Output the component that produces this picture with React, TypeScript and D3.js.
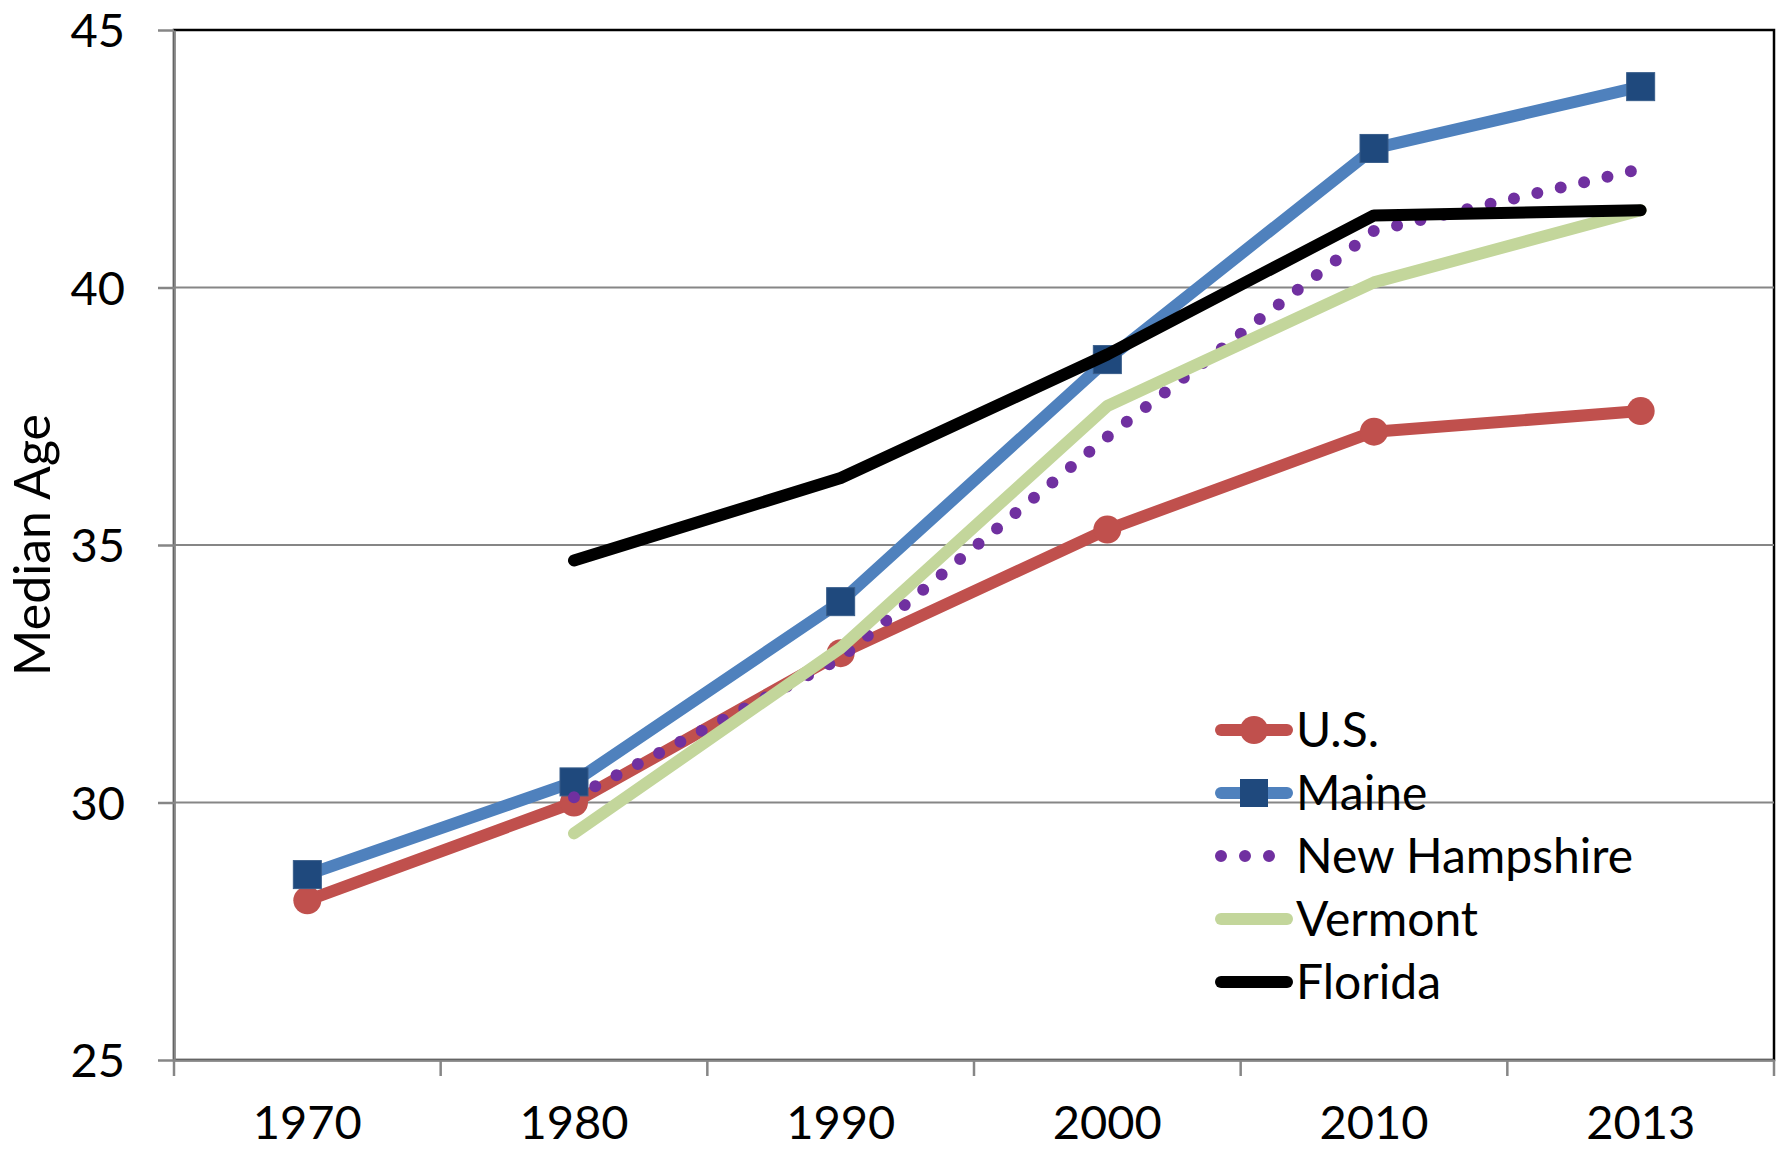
import { axisBottom, axisLeft, line, scaleBand, scaleLinear, select } from 'd3';
import React, { useEffect, useRef } from 'react';

const WIDTH = 1781;
const HEIGHT = 1149;
const MARGIN_TOP = 30;
const MARGIN_RIGHT = 7;
const MARGIN_BOTTOM = 89;
const MARGIN_LEFT = 174;

const FONT = 'Lato, "Open Sans", sans-serif';

const years = ['1970', '1980', '1990', '2000', '2010', '2013'];
const yTicks = [25, 30, 35, 40, 45];

const usValues = [28.1, 30.0, 32.9, 35.3, 37.2, 37.6];
const maineValues = [28.6, 30.4, 33.9, 38.6, 42.7, 43.9];
const newHampshireValues = [null, 30.1, 32.8, 37.1, 41.1, 42.3];
const vermontValues = [null, 29.4, 33.0, 37.7, 40.1, 41.5];
const floridaValues = [null, 34.7, 36.3, 38.7, 41.4, 41.5];

type Series = {
  name: string;
  values: (number | null)[];
  color: string;
  marker?: 'circle' | 'square';
  markerColor?: string;
  dotted?: boolean;
};

const series: Series[] = [
  { name: 'U.S.', values: usValues, color: '#C0504D', marker: 'circle', markerColor: '#C0504D' },
  { name: 'Maine', values: maineValues, color: '#4F81BD', marker: 'square', markerColor: '#1F497D' },
  { name: 'New Hampshire', values: newHampshireValues, color: '#7030A0', dotted: true },
  { name: 'Vermont', values: vermontValues, color: '#C3D69B' },
  { name: 'Florida', values: floridaValues, color: '#000000' },
];

const App = (): JSX.Element => {
  const ref = useRef<SVGSVGElement>(null);

  useEffect(() => {
    if (ref.current === null) return;
    ref.current.replaceChildren();

    const x = scaleBand().domain(years).range([MARGIN_LEFT, WIDTH - MARGIN_RIGHT]);
    const y = scaleLinear()
      .domain([25, 45])
      .range([HEIGHT - MARGIN_BOTTOM, MARGIN_TOP]);
    const cx = (d: string) => (x(d) ?? 0) + x.bandwidth() / 2;

    const svg = select(ref.current)
      .attr('width', WIDTH)
      .attr('height', HEIGHT)
      .attr('viewBox', [0, 0, WIDTH, HEIGHT])
      .style('font-family', FONT);

    svg.append('rect').attr('width', WIDTH).attr('height', HEIGHT).attr('fill', '#fff');

    // Plot area border (top and right stay dark)
    svg
      .append('rect')
      .attr('x', MARGIN_LEFT)
      .attr('y', MARGIN_TOP)
      .attr('width', WIDTH - MARGIN_RIGHT - MARGIN_LEFT)
      .attr('height', HEIGHT - MARGIN_BOTTOM - MARGIN_TOP)
      .attr('fill', 'none')
      .attr('stroke', '#000')
      .attr('stroke-width', 2.5);

    // Gridlines
    svg
      .append('g')
      .selectAll()
      .data(yTicks.slice(1, -1))
      .join('line')
      .attr('x1', MARGIN_LEFT)
      .attr('x2', WIDTH - MARGIN_RIGHT)
      .attr('y1', (d) => y(d))
      .attr('y2', (d) => y(d))
      .attr('stroke', '#868686')
      .attr('stroke-width', 2);

    // y-axis
    svg
      .append('g')
      .attr('transform', `translate(${MARGIN_LEFT}, 0)`)
      .call(axisLeft(y).tickValues(yTicks).tickSize(16).tickPadding(33).tickSizeOuter(0))
      .call((g) => g.selectAll('line, path').attr('stroke', '#868686').attr('stroke-width', 2.5))
      .call((g) =>
        g
          .selectAll('text')
          .attr('font-size', 47)
          .attr('font-family', FONT)
          .attr('fill', '#000')
          .attr('dy', '0.36em'),
      );

    // x-axis, ticks sit on the band edges
    svg
      .append('g')
      .attr('transform', `translate(0, ${HEIGHT - MARGIN_BOTTOM})`)
      .call(axisBottom(x).tickSize(0).tickPadding(46))
      .call((g) => g.selectAll('path').attr('stroke', '#868686').attr('stroke-width', 2.5))
      .call((g) =>
        g
          .selectAll('text')
          .attr('font-size', 47)
          .attr('font-family', FONT)
          .attr('fill', '#000'),
      )
      .call((g) =>
        g
          .append('g')
          .selectAll()
          .data([...years.map((d) => x(d) ?? 0), WIDTH - MARGIN_RIGHT])
          .join('line')
          .attr('x1', (d) => d)
          .attr('x2', (d) => d)
          .attr('y1', 0)
          .attr('y2', 16)
          .attr('stroke', '#868686')
          .attr('stroke-width', 2.5),
      );

    // y-axis title
    svg
      .append('text')
      .attr('transform', `translate(50, ${y(35)}) rotate(-90)`)
      .attr('text-anchor', 'middle')
      .attr('font-size', 50)
      .attr('fill', '#000')
      .text('Median Age');

    const lineGen = line<number | null>()
      .defined((d) => d !== null)
      .x((_, i) => cx(years[i]))
      .y((d) => y(d as number));

    series.forEach((s) => {
      const g = svg.append('g');
      g.append('path')
        .attr('d', lineGen(s.values))
        .attr('fill', 'none')
        .attr('stroke', s.color)
        .attr('stroke-width', 12)
        .attr('stroke-linejoin', 'round')
        .attr('stroke-linecap', 'round')
        .attr('stroke-dasharray', s.dotted ? '0 24' : null);

      const pts = s.values
        .map((v, i) => ({ v, year: years[i] }))
        .filter((p) => p.v !== null) as { v: number; year: string }[];

      if (s.marker === 'circle') {
        g.selectAll()
          .data(pts)
          .join('circle')
          .attr('cx', (p) => cx(p.year))
          .attr('cy', (p) => y(p.v))
          .attr('r', 14)
          .attr('fill', s.markerColor!);
      } else if (s.marker === 'square') {
        g.selectAll()
          .data(pts)
          .join('rect')
          .attr('x', (p) => cx(p.year) - 14)
          .attr('y', (p) => y(p.v) - 14)
          .attr('width', 28)
          .attr('height', 28)
          .attr('fill', s.markerColor!)
          .attr('stroke', '#385D8A')
          .attr('stroke-width', 1);
      }
    });

    // Legend
    const legend = svg.append('g').attr('transform', 'translate(1215, 730)');
    series.forEach((s, i) => {
      const row = legend.append('g').attr('transform', `translate(0, ${i * 63})`);
      row
        .append('line')
        .attr('x1', 6)
        .attr('x2', s.dotted ? 56 : 72)
        .attr('stroke', s.color)
        .attr('stroke-width', 12)
        .attr('stroke-linecap', 'round')
        .attr('stroke-dasharray', s.dotted ? '0 24' : null);
      if (s.marker === 'circle') {
        row.append('circle').attr('cx', 39).attr('r', 14).attr('fill', s.markerColor!);
      } else if (s.marker === 'square') {
        row
          .append('rect')
          .attr('x', 25)
          .attr('y', -14)
          .attr('width', 28)
          .attr('height', 28)
          .attr('fill', s.markerColor!);
      }
      row
        .append('text')
        .attr('x', 81)
        .attr('dy', '0.36em')
        .attr('font-size', 48)
        .attr('fill', '#000')
        .text(s.name);
    });
  }, []);

  return (
    <div style={{ position: 'absolute', left: 0, top: 0 }}>
      <svg ref={ref} style={{ display: 'block' }} />
    </div>
  );
};

export default App;
